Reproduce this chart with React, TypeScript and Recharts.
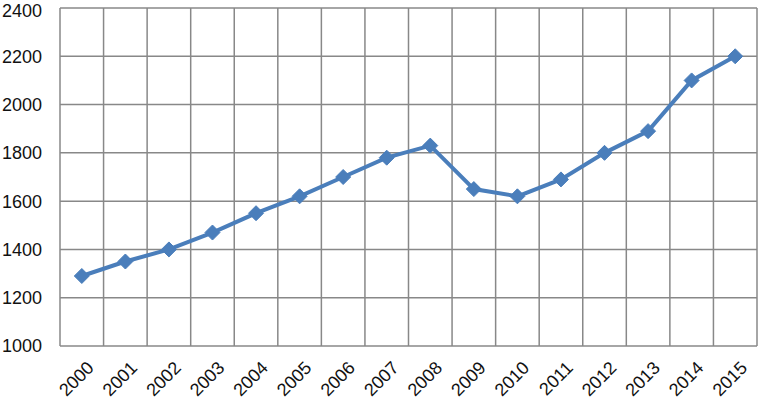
import React from "react";
import { LineChart, Line, XAxis, YAxis, CartesianGrid } from "recharts";

const years = ["2000","2001","2002","2003","2004","2005","2006","2007","2008","2009","2010","2011","2012","2013","2014","2015"];
const values = [1290,1350,1400,1470,1550,1620,1700,1780,1830,1650,1620,1690,1800,1890,2100,2200];
const yTicks = [1000,1200,1400,1600,1800,2000,2200,2400];

const data = years.map((y, i) => ({ year: y, value: values[i] }));

const FONT = "'Liberation Sans', Arial, sans-serif";

const Diamond = (props: any) => {
  const { cx, cy } = props;
  if (cx == null || cy == null) return null;
  const r = 7.5;
  return (
    <path
      d={`M${cx},${cy - r} L${cx + r},${cy} L${cx},${cy + r} L${cx - r},${cy} Z`}
      fill="#4A7EBB"
      stroke="#4A7EBB"
      strokeWidth={1}
    />
  );
};

const XTick = (props: any) => {
  const { x, y, payload } = props;
  return (
    <g transform={`translate(${x + 4},${y + 14})`}>
      <text
        transform="rotate(-45)"
        textAnchor="end"
        dy="0.71em"
        fontSize={18}
        fontFamily={FONT}
        fill="#111"
      >
        {payload.value}
      </text>
    </g>
  );
};

export default function App() {
  return (
    <div style={{ position: "absolute", left: 0, top: 0, background: "#fff" }}>
      <LineChart
        width={758}
        height={402}
        data={data}
        margin={{ top: 8, right: 1, left: 0, bottom: 0 }}
      >
        <CartesianGrid
          stroke="#888"
          strokeWidth={1.5}
          verticalCoordinatesGenerator={({ offset }: any) => {
            const arr: number[] = [];
            for (let i = 0; i <= years.length; i++) {
              arr.push(offset.left + (i * offset.width) / years.length);
            }
            return arr;
          }}
        />
        <XAxis
          dataKey="year"
          height={56}
          tickLine={false}
          axisLine={false}
          tickSize={0}
          tickMargin={0}
          interval={0}
          padding={{ left: 21.8, right: 21.8 }}
          tick={<XTick />}
        />
        <YAxis
          width={60}
          domain={[1000, 2400]}
          ticks={yTicks}
          tickLine={false}
          axisLine={false}
          tickSize={0}
          tickMargin={18}
          tick={{ fontSize: 18, fontFamily: FONT, fill: "#111" }}
        />
        <Line
          dataKey="value"
          stroke="#4A7EBB"
          strokeWidth={4}
          dot={<Diamond />}
          activeDot={false}
          isAnimationActive={false}
        />
      </LineChart>
    </div>
  );
}
